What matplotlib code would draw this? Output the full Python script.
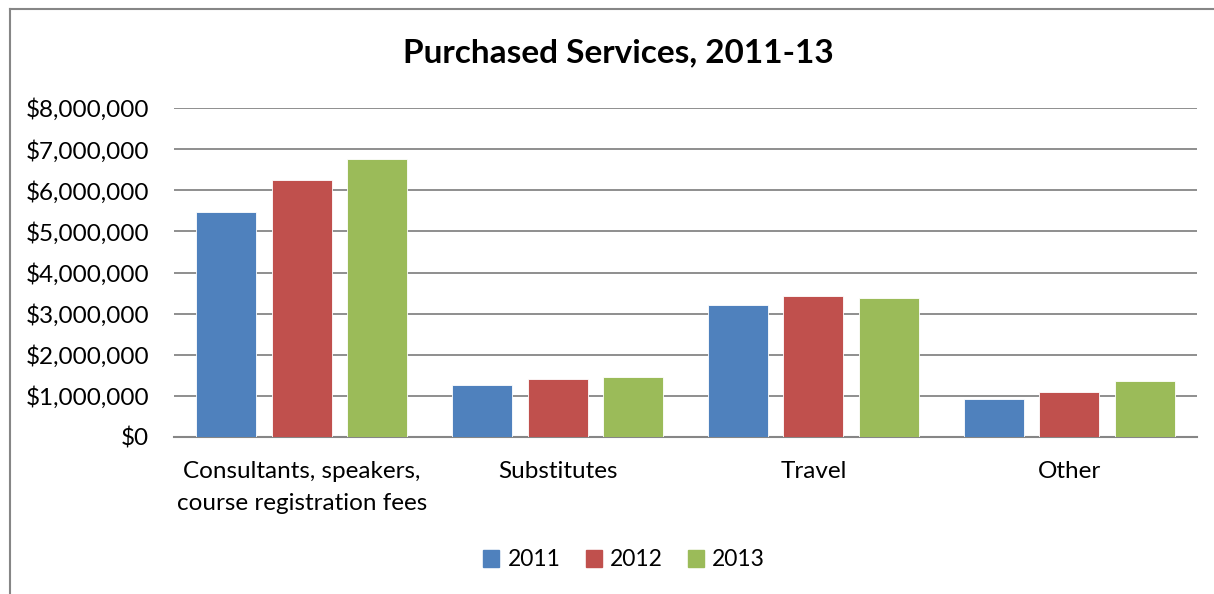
import matplotlib
matplotlib.use("Agg")
import matplotlib.pyplot as plt
import numpy as np
from matplotlib.ticker import FuncFormatter, MultipleLocator
from matplotlib.lines import Line2D

categories = ["Consultants, speakers,\ncourse registration fees", "Substitutes", "Travel", "Other"]
series_names = ["2011", "2012", "2013"]
values_2011 = [5470000, 1270000, 3200000, 925000]
values_2012 = [6250000, 1410000, 3420000, 1090000]
values_2013 = [6750000, 1450000, 3370000, 1360000]
colors = ["#4F81BD", "#C0504D", "#9BBB59"]

plt.rcParams['font.family'] = ['Lato', 'DejaVu Sans']

fig = plt.figure(figsize=(12.14, 5.94), dpi=100)
ax = fig.add_axes([174/1214, 1-437/594, (1197-174)/1214, (437-108)/594])

x = np.arange(len(categories))
width = 0.235
offset = 0.295
for i, (vals, name) in enumerate(zip([values_2011, values_2012, values_2013], series_names)):
    ax.bar(x + (i-1)*offset, vals, width, color=colors[i], label=name, zorder=3,
           edgecolor='white', linewidth=0.6)

ax.set_xlim(-0.5, len(categories)-0.5)
ax.set_ylim(0, 8000000)
ax.yaxis.set_major_locator(MultipleLocator(1000000))
ax.yaxis.set_major_formatter(FuncFormatter(lambda v, p: "${:,.0f}".format(v)))
ax.grid(axis='y', color='#868686', linewidth=1.3, zorder=0)
for s in ['top', 'right', 'left']:
    ax.spines[s].set_visible(False)
ax.spines['bottom'].set_color('#868686')
ax.spines['bottom'].set_linewidth(1.5)
ax.tick_params(axis='y', length=0, pad=18, labelsize=17.5)
ax.tick_params(axis='x', length=0, pad=17, labelsize=17.5)
ax.set_xticks(x)
ax.set_xticklabels(categories, linespacing=1.65)

fig.text(618/1214, 1-53/594, "Purchased Services, 2011-13", ha='center', va='center',
         fontsize=24, fontweight='bold')

handles = [plt.Rectangle((0, 0), 1, 1, color=c) for c in colors]
fig.legend(handles, series_names, loc='center', bbox_to_anchor=(624/1214, 1-560/594),
           ncol=3, frameon=False, fontsize=16.5, handlelength=0.7, handleheight=0.7,
           handletextpad=0.35, columnspacing=1.1)

# outer border (cropped on right and bottom)
fig.add_artist(Line2D([10/1214, 1], [1-9/594, 1-9/594], transform=fig.transFigure, color='#868686', linewidth=1.5))
fig.add_artist(Line2D([10/1214, 10/1214], [0, 1-9/594], transform=fig.transFigure, color='#868686', linewidth=1.5))

fig.savefig("out.png", dpi=100)
